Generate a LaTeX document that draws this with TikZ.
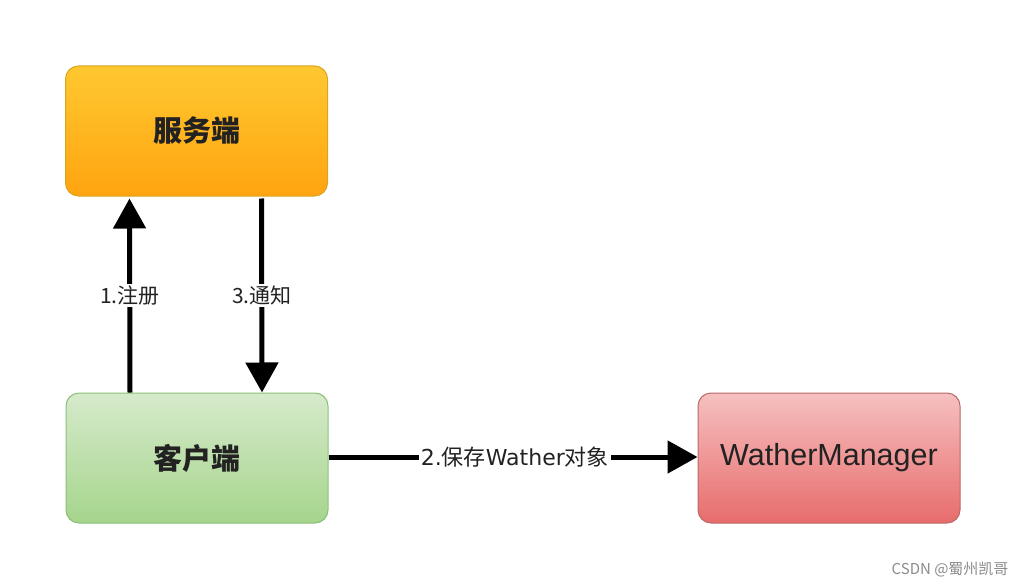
\documentclass[tikz,border=0pt]{standalone}
\usepackage{fontspec}
\setmainfont{Liberation Sans}
\newfontfamily\cjk{Noto Sans CJK SC}
\newfontfamily\dvs{DejaVu Sans}
\usetikzlibrary{arrows.meta,shadings}
\definecolor{orTop}{HTML}{FFC830}
\definecolor{orBot}{HTML}{FFA410}
\definecolor{orLine}{HTML}{D9A520}
\definecolor{grTop}{HTML}{D6EACB}
\definecolor{grBot}{HTML}{A5D58C}
\definecolor{grLine}{HTML}{8CBF76}
\definecolor{rdTop}{HTML}{F6C0C0}
\definecolor{rdBot}{HTML}{E86C6C}
\definecolor{rdLine}{HTML}{B86A68}
\definecolor{txt}{HTML}{222222}
\tikzset{
  box/.style={draw, line width=1pt, rounded corners=13pt, minimum width=262pt, minimum height=130pt, inner sep=0pt, text=txt},
  arr/.style={line width=5pt, -{Triangle[length=30pt,width=32pt]}},
  lbl/.style={fill=white, inner sep=2pt, font=\cjk\fontsize{21}{24}\selectfont, text=txt}
}
\begin{document}
\begin{tikzpicture}[x=1pt,y=-1pt]
\fill[white] (0,0) rectangle (1024,588);
\useasboundingbox (0,0) rectangle (1024,588);
\node[box, draw=orLine, top color=orTop, bottom color=orBot, font=\cjk\bfseries\fontsize{29}{32}\selectfont] (server) at (196.5,131) {服务端};
\node[box, draw=grLine, top color=grTop, bottom color=grBot, font=\cjk\bfseries\fontsize{29}{32}\selectfont] (client) at (197,458) {客户端};
\node[box, draw=rdLine, top color=rdTop, bottom color=rdBot, font=\fontsize{30.5}{34}\selectfont] (wm) at (829,458) {WatherManager};
\draw[arr] ([xshift=-67pt]client.north) -- ([xshift=-67pt,yshift=-2pt]server.south) node[pos=0.5, lbl] (l1) {1.注册};
\draw[arr] ([xshift=65pt,yshift=-2pt]server.south) -- ([xshift=65pt]client.north) node[pos=0.5, lbl] (l3) {3.通知};
\draw[arr] ([yshift=1pt]client.east) -- ([yshift=1pt]wm.west) node[pos=0.505, lbl, font=\cjk\fontsize{22}{24}\selectfont] (l2) {{\dvs 2.}保存{\dvs Wather}对象};
\node[text=black!45, font=\cjk\fontsize{15}{17}\selectfont, anchor=east] (wmk) at (1012,570) {CSDN @蜀州凯哥};
\end{tikzpicture}
\end{document}
